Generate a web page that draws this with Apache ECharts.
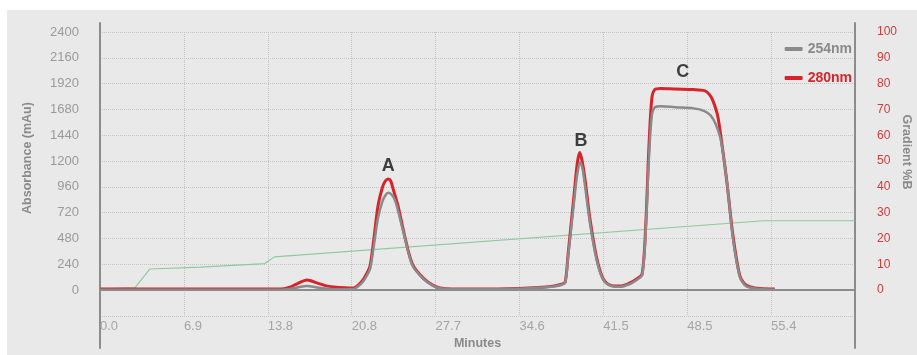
<!DOCTYPE html>
<html><head><meta charset="utf-8">
<script src="https://cdn.jsdelivr.net/npm/echarts@6/dist/echarts.min.js"></script>
<style>
html,body{margin:0;padding:0;background:#fff;}
#wrap{position:relative;width:917px;height:355px;background:#fff;overflow:hidden;}
#bg{position:absolute;left:7px;top:10px;width:910px;height:345px;background:#e9e9e9;}
#c{position:absolute;left:0;top:0;width:917px;height:355px;}
</style>
</head><body>
<div id="wrap"><div id="bg"></div><div id="c"></div></div>
<script>
// ---- data ----
const xTickLabels = ['0.0','6.9','13.8','20.8','27.7','34.6','41.5','48.5','55.4',''];
const xStep = 6.925;
const xMax = 62.325;

const t280 = [0,3,8,12,14.9,15.6,16.3,17.1,17.9,18.6,19.3,20.2,20.9,21.6,22.0,22.3,22.6,22.95,23.3,23.55,23.8,24.0,24.2,24.6,25.2,25.8,26.7,27.5,28.1,29.0,31,33,35,36.5,37.5,38.1,38.4,38.65,38.9,39.15,39.4,39.6,39.8,40.05,40.45,41.0,41.5,42.1,42.9,43.7,44.3,44.75,45.05,45.3,45.55,45.8,46.3,47.5,49.0,49.9,50.3,50.6,51.0,51.35,51.75,52.25,52.8,53.2,53.7,54.5,55.7];
const v280 = [10,10,10,10,10,25,62,95,68,42,30,22,20,80,150,230,470,785,950,1015,1034,1015,940,785,480,240,110,45,20,10,10,12,18,28,40,55,75,345,625,905,1180,1280,1200,1020,660,300,115,48,38,65,105,150,600,1300,1780,1865,1875,1870,1865,1855,1820,1760,1615,1350,1006,508,140,60,30,15,10];

const t254 = [0,3,8,12,14.9,15.8,16.5,17.1,17.8,18.6,19.5,20.9,21.6,22.0,22.3,22.6,22.95,23.3,23.55,23.8,24.05,24.3,24.6,25.2,25.8,26.7,27.5,28.1,29.0,31,33,35,36.5,37.5,38.1,38.4,38.65,38.9,39.15,39.4,39.65,39.85,40.05,40.45,41.0,41.5,42.1,42.9,43.7,44.3,44.75,45.05,45.3,45.55,45.8,46.3,47.5,49.0,49.9,50.4,50.8,51.2,51.5,51.8,52.25,52.8,53.2,53.7,54.5,55.7];
const v254 = [5,5,5,5,5,15,30,38,28,15,8,10,65,130,200,410,670,820,880,905,890,850,740,470,230,105,40,18,8,8,10,15,24,35,50,70,320,580,840,1080,1190,1120,960,620,280,105,42,32,55,95,140,560,1200,1620,1700,1710,1700,1690,1665,1625,1550,1420,1220,960,480,130,50,22,10,5];

const tGrad = [0,2.9,4.1,8.3,13.6,14.4,54.8,62.325];
const vGrad = [0.5,1,8.2,8.9,10.3,12.9,26.9,26.9];

const peakNames = ['A','B','C'];
const peakT = [23.8,39.7,48.1];
const peakV = [1158,1389,2026];

// ---- chart ----
const FONT = "'Liberation Sans', Arial, sans-serif";
const RED = '#d8232a';
const GRAY = '#8a8a8a';
const pairs = (t, v) => t.map((x, i) => [x, v[i]]);
const gridLine = {show:true, lineStyle:{color:'#c3c3c3', type:'dotted', width:1}};

const chart = echarts.init(document.getElementById('c'), null, {renderer:'canvas'});
chart.setOption({
  backgroundColor:'transparent',
  animation:false,
  textStyle:{fontFamily:FONT},
  legend:{
    data:[{name:'254nm', textStyle:{color:GRAY}}, {name:'280nm', textStyle:{color:RED}}],
    orient:'vertical', right:60, top:37, itemWidth:18, itemHeight:4, itemGap:15,
    icon:'roundRect',
    textStyle:{fontFamily:FONT, fontSize:14, fontWeight:'bold'}
  },
  grid:[
    {left:100, right:62, top:32, bottom:39, outerBoundsMode:'none', containLabel:false},
    {left:100, right:62, top:23, bottom:7, outerBoundsMode:'none', containLabel:false}
  ],
  xAxis:[
    {gridIndex:0, type:'value', min:0, max:xMax, interval:xStep,
     axisLine:{show:false}, axisTick:{show:false}, splitLine:gridLine,
     axisLabel:{color:'#a5a5a5', fontSize:13, fontFamily:FONT, align:'left', margin:4,
       formatter:v => xTickLabels[Math.round(v / xStep)] || ''},
     name:'Minutes', nameLocation:'middle', nameGap:21, nameMoveOverlap:false,
     nameTextStyle:{color:GRAY, fontWeight:'bold', fontSize:12.5, fontFamily:FONT}},
    {gridIndex:1, type:'value', show:false, min:0, max:1}
  ],
  yAxis:[
    {gridIndex:0, type:'value', min:-240, max:2400, interval:240, position:'left',
     axisLine:{show:false}, axisTick:{show:false}, splitLine:gridLine,
     axisLabel:{color:'#9a9a9a', fontSize:13, fontFamily:FONT, margin:21,
       formatter:v => v < 0 ? '' : String(v)},
     name:'Absorbance (mAu)', nameLocation:'middle', nameGap:66, nameMoveOverlap:false,
     nameTextStyle:{color:GRAY, fontWeight:'bold', fontSize:12.5, fontFamily:FONT, padding:[0,0,0,32]}},
    {gridIndex:0, type:'value', min:-10, max:100, interval:10, position:'right',
     axisLine:{show:false}, axisTick:{show:false}, splitLine:{show:false},
     axisLabel:{color:'#d43a3a', fontSize:12, fontFamily:FONT, margin:22,
       formatter:v => v < 0 ? '' : String(v)},
     name:'Gradient %B', nameLocation:'middle', nameGap:45, nameRotate:-90, nameMoveOverlap:false,
     nameTextStyle:{color:GRAY, fontWeight:'bold', fontSize:12.5, fontFamily:FONT, padding:[0,44,0,0]}},
    {gridIndex:1, type:'value', position:'left', min:0, max:1,
     axisLine:{show:true, lineStyle:{color:'#8c8c8c', width:2}}, axisTick:{show:false},
     axisLabel:{show:false}, splitLine:{show:false}},
    {gridIndex:1, type:'value', position:'right', min:0, max:1,
     axisLine:{show:true, lineStyle:{color:'#8c8c8c', width:2}}, axisTick:{show:false},
     axisLabel:{show:false}, splitLine:{show:false}}
  ],
  series:[
    {name:'Gradient', type:'line', xAxisIndex:0, yAxisIndex:1, data:pairs(tGrad, vGrad),
     showSymbol:false, lineStyle:{color:'#8ec9a1', width:1.2}, itemStyle:{color:'#8ec9a1'}, z:1,
     markLine:{silent:true, symbol:'none', label:{show:false},
       lineStyle:{color:'#8c8c8c', width:2, type:'solid'}, data:[{yAxis:0}]}},
    {name:'280nm', type:'line', xAxisIndex:0, yAxisIndex:0, data:pairs(t280, v280),
     showSymbol:false, smooth:0.3, lineStyle:{color:RED, width:3}, itemStyle:{color:RED}, z:3},
    {name:'254nm', type:'line', xAxisIndex:0, yAxisIndex:0, data:pairs(t254, v254),
     showSymbol:false, smooth:0.3, lineStyle:{color:GRAY, width:2.5}, itemStyle:{color:GRAY}, z:4},
    {name:'Peaks', type:'scatter', xAxisIndex:0, yAxisIndex:0, symbolSize:0, silent:true,
     data:peakNames.map((n, i) => ({name:n, value:[peakT[i], peakV[i]]})),
     label:{show:true, position:'inside', formatter:p => p.name, color:'#111',
       fontSize:18, fontWeight:'bold', fontFamily:FONT}, z:5}
  ]
});
</script>
</body></html>
